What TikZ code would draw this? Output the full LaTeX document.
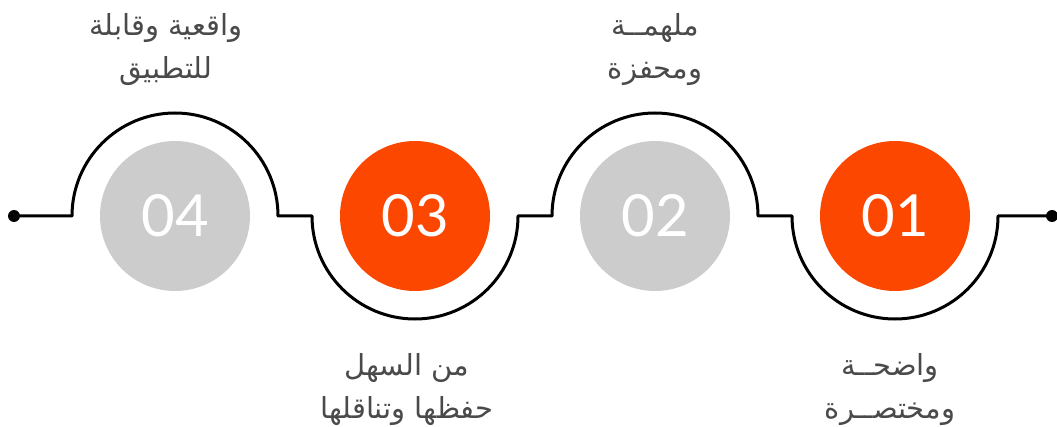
\documentclass[tikz,border=0pt]{standalone}
\usepackage{fontspec}
\TeXXeTstate=1
\newfontfamily\arabicfont[Script=Arabic]{DejaVu Sans}
\newfontfamily\numfont{Lato}
\definecolor{accent}{HTML}{FC4700}
\definecolor{soft}{HTML}{CCCCCC}
\definecolor{ink}{HTML}{4A4A4A}
\begin{document}
\begin{tikzpicture}[x=1pt,y=1pt,
  numcircle/.style={circle,minimum size=150pt,inner sep=0pt,text=white,font=\numfont\fontsize{58}{58}\selectfont},
  label/.style={align=center,text=ink,font=\arabicfont\fontsize{29}{43}\selectfont},
  track/.style={line width=3pt,line join=round}]
\useasboundingbox (0,0) rectangle (1057,426);
\node[numcircle,fill=soft] (c4) at (175,210) {04};
\node[numcircle,fill=accent] (c3) at (415,210) {03};
\node[numcircle,fill=soft] (c2) at (655,210) {02};
\node[numcircle,fill=accent] (c1) at (895,210) {01};
\coordinate (s) at (14,210);
\coordinate (e) at (1052,210);
\coordinate (a4) at (72,210);
\coordinate (b4) at (278,210);
\coordinate (a3) at (312,210);
\coordinate (b3) at (518,210);
\coordinate (a2) at (552,210);
\coordinate (b2) at (758,210);
\coordinate (a1) at (792,210);
\coordinate (b1) at (998,210);
\draw[track] (s) -- (a4) arc (180:0:103) -- (a3) arc (180:360:103) -- (a2) arc (180:0:103) -- (a1) arc (180:360:103) -- (e);
\fill (s) circle (6);
\fill (e) circle (6);
\node[label] (l4) at (166,376) {\beginR واقعية وقابلة\endR\\\beginR للتطبيق\endR};
\node[label] (l2) at (655,376) {\beginR ملهمــة\endR\\\beginR ومحفزة\endR};
\node[label] (l3) at (407,36) {\beginR من السهل\endR\\\beginR حفظها وتناقلها\endR};
\node[label] (l1) at (890,36) {\beginR واضحــة\endR\\\beginR ومختصــرة\endR};
\end{tikzpicture}
\end{document}
